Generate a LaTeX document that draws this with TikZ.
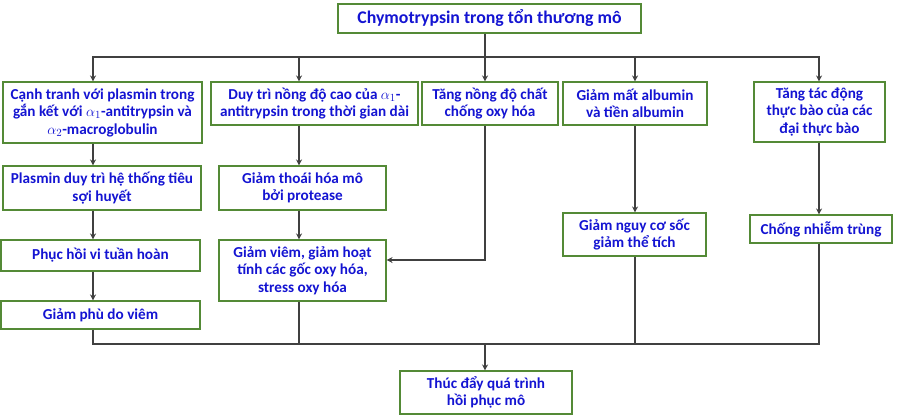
\documentclass[tikz,border=0pt]{standalone}
\usepackage{fontspec}
\setmainfont{Carlito}
\usetikzlibrary{arrows.meta}
\definecolor{boxgreen}{HTML}{548A36}
\definecolor{textblue}{HTML}{1414D2}
\definecolor{linegray}{HTML}{404040}
\begin{document}
\begin{tikzpicture}[x=1pt,y=-1pt,
    box/.style={draw=boxgreen,line width=1.1pt,fill=white,text=textblue,
      font=\bfseries\fontsize{15.2}{17.5}\selectfont,align=center,inner sep=0pt},
    link/.style={draw=linegray,line width=1.1pt},
    arr/.style={link,-{Stealth[length=6pt,width=6pt]}}]
  \useasboundingbox (0,0) rectangle (900,418);
  \begin{scope}[every node/.style={box}]
    \node[minimum width=303pt,minimum height=29pt,font=\bfseries\fontsize{17.8}{20}\selectfont] (top) at (489.5,18.5) {Chymotrypsin trong tổn thương mô};
    % hàng thứ nhất
    \node[minimum width=199pt,minimum height=61pt] (canh) at (102.5,112.5) {Cạnh tranh với plasmin trong\\gắn kết với $\alpha_1$-antitrypsin và\\$\alpha_2$-macroglobulin};
    \node[minimum width=207pt,minimum height=43pt] (duy) at (314.5,103.5) {Duy trì nồng độ cao của $\alpha_1$-\\antitrypsin trong thời gian dài};
    \node[minimum width=136pt,minimum height=43pt] (tang) at (490,103.5) {Tăng nồng độ chất\\chống oxy hóa};
    \node[minimum width=144pt,minimum height=43pt] (albu) at (635,103.5) {Giảm mất albumin\\và tiền albumin};
    \node[minimum width=131pt,minimum height=60pt] (thuc) at (819.5,112) {Tăng tác động\\thực bào của các\\đại thực bào};
    % các hàng dưới
    \node[minimum width=198pt,minimum height=44pt] (plas) at (102,188) {Plasmin duy trì hệ thống tiêu\\sợi huyết};
    \node[minimum width=167pt,minimum height=44pt] (thoai) at (302.5,188) {Giảm thoái hóa mô\\bởi protease};
    \node[minimum width=199pt,minimum height=31pt] (phuc) at (100.5,255.5) {Phục hồi vi tuần hoàn};
    \node[minimum width=167pt,minimum height=61pt] (viem) at (302.5,270.5) {Giảm viêm, giảm hoạt\\tính các gốc oxy hóa,\\stress oxy hóa};
    \node[minimum width=199pt,minimum height=28pt] (phu) at (100.5,315) {Giảm phù do viêm};
    \node[minimum width=143pt,minimum height=43pt] (soc) at (634.5,234.5) {Giảm nguy cơ sốc\\giảm thể tích};
    \node[minimum width=142pt,minimum height=28pt] (nhiem) at (821,229) {Chống nhiễm trùng};
    \node[minimum width=172pt,minimum height=43pt] (mo) at (486,392.5) {Thúc đẩy quá trình\\hồi phục mô};
  \end{scope}
  \coordinate (busT) at (485,57);
  \coordinate (busB) at (485,344);
  \coordinate (colA) at (93,0);
  \coordinate (colB) at (299,0);
  \coordinate (colC) at (485,0);
  \coordinate (colD) at (635,0);
  \coordinate (colE) at (819,0);
  % nhánh từ trên xuống
  \draw[link] (top.south -| colC) -- (busT);
  \draw[arr] (busT) -| (colA |- canh.north);
  \draw[arr] (busT) -| (colB |- duy.north);
  \draw[arr] (busT) -- (colC |- tang.north);
  \draw[arr] (busT) -| (colD |- albu.north);
  \draw[arr] (busT) -| (colE |- thuc.north);
  \draw[arr] (colA |- canh.south) -- (colA |- plas.north);
  \draw[arr] (colA |- plas.south) -- (colA |- phuc.north);
  \draw[arr] (colA |- phuc.south) -- (colA |- phu.north);
  \draw[arr] (colB |- duy.south) -- (colB |- thoai.north);
  \draw[arr] (colB |- thoai.south) -- (colB |- viem.north);
  \draw[arr] (colC |- tang.south) |- ([yshift=10.5pt]viem.east);
  \draw[arr] (colD |- albu.south) -- (colD |- soc.north);
  \draw[arr] (colE |- thuc.south) -- (colE |- nhiem.north);
  % gom về hộp cuối
  \draw[link] (colA |- phu.south) |- (busB);
  \draw[link] (colB |- viem.south) -- (colB |- busB);
  \draw[link] (colE |- nhiem.south) |- (busB);
  \draw[link] (colD |- soc.south) -- (colD |- busB);
  \draw[arr] (busB) -- (colC |- mo.north);
\end{tikzpicture}
\end{document}
